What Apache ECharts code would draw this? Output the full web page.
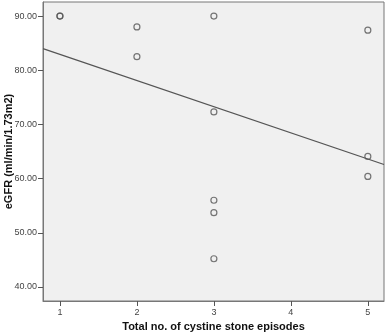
<!DOCTYPE html>
<html>
<head>
<meta charset="utf-8">
<script src="https://cdn.jsdelivr.net/npm/echarts@6/dist/echarts.min.js"></script>
<style>
  html, body { margin: 0; padding: 0; background: #fff; }
  #eChart { width: 388px; height: 335px; }
</style>
</head>
<body>
<div id="eChart"></div>
<script>
// values
const episodes = [1, 1, 2, 2, 3, 3, 3, 3, 3, 5, 5, 5];
const egfr = [90.0, 90.0, 88.0, 82.5, 90.0, 72.3, 56.0, 53.7, 45.2, 87.4, 64.1, 60.4];
// fit line, ends at the plot borders
const fitX = [0.78, 5.21];
const fitY = [84.0, 62.6];
const xTicks = [1, 2, 3, 4, 5];
const yTicks = [40, 50, 60, 70, 80, 90];

const pts = episodes.map((x, i) => [x, egfr[i]]);
const fit = fitX.map((x, i) => [x, fitY[i]]);

const axisGray = "#777";
const labelStyle = { color: "#444", fontSize: 9, fontFamily: "Liberation Sans" };
const nameStyle = { color: "#111", fontSize: 11, fontWeight: "bold", fontFamily: "Liberation Sans" };

const myChart = echarts.init(document.getElementById("eChart"), null, { renderer: "canvas" });
myChart.setOption({
  animation: false,
  grid: {
    left: 43, top: 2, right: 4, bottom: 34,
    outerBoundsMode: "none",
    containLabel: false,
    show: true,
    backgroundColor: "#f0f0f0",
    borderColor: axisGray,
    borderWidth: 1,
  },
  xAxis: {
    type: "value",
    min: 0.78,
    max: 5.21,
    name: "Total no. of cystine stone episodes",
    nameLocation: "middle",
    nameGap: 20,
    nameMoveOverlap: false,
    nameTextStyle: nameStyle,
    axisLine: { show: true, lineStyle: { color: axisGray } },
    axisTick: { show: true, customValues: xTicks, length: 5, lineStyle: { color: "#555" } },
    axisLabel: { customValues: xTicks, ...labelStyle, margin: 7 },
    splitLine: { show: false },
  },
  yAxis: {
    type: "value",
    min: 37.4,
    max: 92.6,
    name: "eGFR (ml/min/1.73m2)",
    nameLocation: "middle",
    nameGap: 29,
    nameMoveOverlap: false,
    nameTextStyle: nameStyle,
    axisLine: { show: true, lineStyle: { color: axisGray } },
    axisTick: { show: true, customValues: yTicks, length: 5, lineStyle: { color: "#555" } },
    axisLabel: {
      customValues: yTicks,
      ...labelStyle,
      margin: 6,
      formatter: (v) => v.toFixed(2),
    },
    splitLine: { show: false },
  },
  series: [
    {
      type: "line",
      data: fit,
      symbol: "none",
      lineStyle: { color: "#555", width: 1.3 },
      z: 2,
    },
    {
      type: "scatter",
      data: pts,
      symbol: "circle",
      symbolSize: 6,
      itemStyle: { color: "rgba(0,0,0,0)", borderColor: "#555", borderWidth: 1.2 },
      z: 3,
    },
  ],
});
</script>
</body>
</html>
